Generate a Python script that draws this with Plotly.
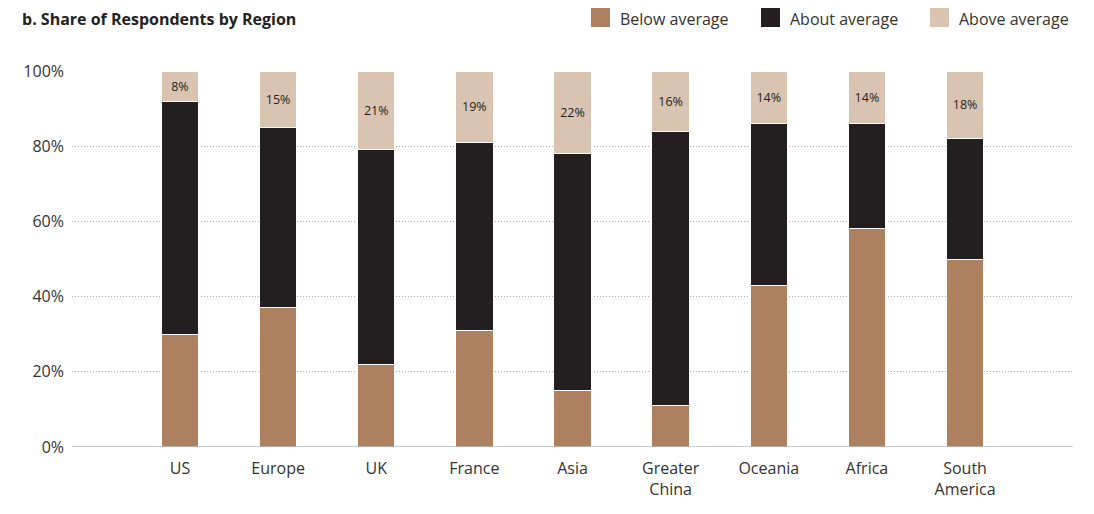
import plotly.graph_objects as go

regions = ["US", "Europe", "UK", "France", "Asia", "Greater<br>China", "Oceania", "Africa", "South<br>America"]
below = [30, 37, 22, 31, 15, 11, 43, 58, 50]
about = [62, 48, 57, 50, 63, 73, 43, 28, 32]
above = [8, 15, 21, 19, 22, 16, 14, 14, 18]

series = [
    ("Below average", below, "#AD8160"),
    ("About average", about, "#231F20"),
    ("Above average", above, "#D9C4B1"),
]

FONT = "Open Sans"
OFF = 8  # page body margin
W, H = 1094 - 2 * OFF, 514 - 2 * OFF
# target page-pixel geometry of the plot area
PL, PR, PT, PB = 72, 1073, 71, 447
L, T = PL - OFF, PT - OFF
R, B = W - (PR - OFF), H - (PB - OFF)
PW, PH = W - L - R, H - T - B

def px_x(px):
    return (px - OFF - L) / PW

def px_y(py):
    return (PB - py) / PH

fig = go.Figure()
for name, vals, color in series:
    show_text = name == "Above average"
    fig.add_trace(go.Bar(
        x=regions, y=vals, name=name, showlegend=False,
        marker=dict(color=color, line=dict(color="white", width=1)),
        text=[f"{v}%" for v in vals] if show_text else None,
        textposition="inside" if show_text else "none",
        insidetextanchor="middle",
        textangle=0,
        constraintext="none",
        textfont=dict(size=12.5, color="#231F20", family=FONT),
        hoverinfo="skip",
    ))

# manual legend (large square swatches)
legend_pos = [(591, 618), (761, 788), (930, 957)]
for (name, _, color), (sx, tx) in zip(series, legend_pos):
    fig.add_shape(type="rect", xref="paper", yref="paper",
                  x0=px_x(sx), x1=px_x(sx + 19), y0=px_y(27), y1=px_y(8),
                  fillcolor=color, line=dict(width=0))
    fig.add_annotation(text=name, xref="paper", yref="paper", x=px_x(tx), y=px_y(19),
                       xanchor="left", yanchor="middle", showarrow=False,
                       font=dict(size=16, color="#333333", family=FONT))

fig.update_layout(
    barmode="stack",
    bargap=0.62,
    width=W, height=H,
    margin=dict(l=L, r=R, t=T, b=B),
    plot_bgcolor="white", paper_bgcolor="white",
    font=dict(family=FONT, size=16, color="#333333"),
    showlegend=False,
    title=dict(text="<b>b. Share of Respondents by Region</b>", x=(22 - OFF) / W, xanchor="left",
               xref="container", yref="container",
               y=1 - (19 - OFF) / H, yanchor="middle", font=dict(size=16, color="#222222", family=FONT)),
    xaxis=dict(range=[-1.1, 9.1], showgrid=False, ticks="", showline=False, automargin=False,
               ticklabelstandoff=10, tickfont=dict(size=16, color="#333333")),
    yaxis=dict(range=[0, 100], tickvals=[0, 20, 40, 60, 80, 100],
               ticktext=["0%", "20%", "40%", "60%", "80%", "100%"],
               showgrid=True, gridcolor="#AAAAAA", griddash="1px,2px", gridwidth=1,
               zeroline=False, ticks="", ticklabelstandoff=7, automargin=False,
               tickfont=dict(size=16, color="#333333")),
)
fig.add_shape(type="line", xref="paper", yref="y", x0=0, x1=1, y0=0, y1=0,
              line=dict(color="#BBBBBB", width=1.5), layer="above")

fig.write_html("out.html")
